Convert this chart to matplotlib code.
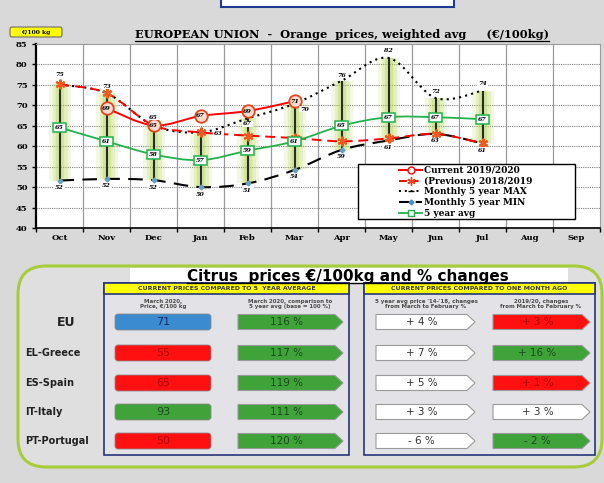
import numpy as np
import matplotlib
matplotlib.use("Agg")
import matplotlib.pyplot as plt
from matplotlib.path import Path
from matplotlib.patches import PathPatch, Rectangle, FancyBboxPatch, Polygon
from matplotlib.lines import Line2D
from matplotlib.transforms import IdentityTransform

W, H = 604, 483

MONTHS = ["Oct", "Nov", "Dec", "Jan", "Feb", "Mar", "Apr", "May", "Jun", "Jul", "Aug", "Sep"]
CURRENT = [np.nan, 69.3, 65.1, 67.4, 68.6, 71.0]          # Oct..Mar 2019/2020
PREVIOUS = [75.1, 73.0, 65.1, 63.4, 62.6, 62.0, 61.2, 61.9, 63.0, 60.7]
MAX5 = [75.1, 73.0, 65.1, 63.4, 66.8, 70.4, 76.0, 81.6, 71.8, 73.6]
MIN5 = [51.6, 52.0, 51.7, 50.0, 50.9, 54.2, 59.1, 61.4, 63.0, 60.7]
AVG5 = [64.6, 61.2, 58.0, 56.6, 58.9, 61.2, 65.0, 67.1, 67.1, 66.6]

COUNTRIES = ["EU", "EL-Greece", "ES-Spain", "IT-Italy", "PT-Portugal"]
PRICE_MAR = [71, 55, 65, 93, 50]
VS_AVG = [116, 117, 119, 111, 120]
AVG_CHANGE = [4, 7, 5, 3, -6]
CUR_CHANGE = [3, 16, 1, 3, -2]
PRICE_COL = ["blue", "red", "red", "green", "red"]
CUR_COL = ["red", "green", "red", "white", "green"]

FILL = {"blue": "#3b8bd0", "red": "#ff1010", "green": "#3fa33a", "white": "#ffffff"}
INK = {"blue": "#1b2a6b", "red": "#b00000", "green": "#1c4a1c", "white": "#333333"}

SERIF = "DejaVu Serif"
SANS = "DejaVu Sans"


def smooth(ax, xs, ys, **kw):
    pts = np.column_stack([xs, ys])
    verts, codes = [pts[0]], [Path.MOVETO]
    n = len(pts)
    for i in range(n - 1):
        p0, p1, p2, p3 = pts[max(i - 1, 0)], pts[i], pts[i + 1], pts[min(i + 2, n - 1)]
        verts += [p1 + (p2 - p0) / 6, p2 - (p3 - p1) / 6, p2]
        codes += [Path.CURVE4] * 3
    ax.add_patch(PathPatch(Path(verts, codes), fill=False, **kw))


def underline(fig, txt, color="black", lw=0.8, off=0.0):
    fig.canvas.draw()
    bb = txt.get_window_extent()
    fig.add_artist(Line2D([bb.x0, bb.x1], [bb.y0 + off, bb.y0 + off],
                          transform=IdentityTransform(), color=color, lw=lw))


fig = plt.figure(figsize=(W / 100, H / 100), dpi=100)
fig.patch.set_facecolor("#d9d9d9")

bg = fig.add_axes([0, 0, 1, 1], zorder=0)
bg.set_xlim(0, W)
bg.set_ylim(H, 0)
bg.axis("off")

# ---- top chart ----
ax = fig.add_axes([36 / W, 1 - 228 / H, 564 / W, 184 / H], zorder=1)
ax.set_facecolor("white")
ax.set_xlim(-0.5, 11.5)
ax.set_ylim(40, 85)

for y in range(45, 85, 5):
    ax.axhline(y, color="#7f7f7f", lw=0.8, ls=(0, (1, 1)), zorder=0.5)
for k in range(11):
    ax.axvline(k + 0.5, color="#9a9a9a", lw=0.9, zorder=0.5)

for s in ("top", "right"):
    ax.spines[s].set_color("#9a9a9a")
ax.spines["left"].set_linewidth(1.6)
ax.spines["bottom"].set_linewidth(1.2)

ax.set_yticks(range(40, 90, 5))
ax.set_xticks(range(12))
ax.set_xticklabels(MONTHS)
ax.set_xticks(np.arange(-0.5, 12, 1), minor=True)
ax.tick_params(axis="y", length=3, width=1, pad=3)
ax.tick_params(axis="x", which="major", length=0, pad=4)
ax.tick_params(axis="x", which="minor", length=3, width=1)
for lab in ax.get_xticklabels() + ax.get_yticklabels():
    lab.set_fontfamily(SERIF)
    lab.set_fontweight("bold")
    lab.set_fontsize(6)

x10 = np.arange(10)
# glow + min/max bars
for lw_, a in [(16, 0.16), (11, 0.24), (6, 0.4)]:
    ax.vlines(x10, MIN5, MAX5, color="#b5d957", lw=lw_, alpha=a, zorder=1)
ax.vlines(x10, MIN5, MAX5, color="#2b2b2b", lw=1.5, zorder=2)

smooth(ax, x10, MIN5, color="black", lw=1.5, ls=(0, (7, 4)), zorder=3)
smooth(ax, x10, MAX5, color="black", lw=1.5, ls=(0, (1, 2)), zorder=3)
smooth(ax, x10, PREVIOUS, color="#ff0000", lw=1.4, ls=(0, (5, 3)), zorder=4)
smooth(ax, x10, AVG5, color="#22b14c", lw=1.3, zorder=4)
smooth(ax, np.arange(1, 6), CURRENT[1:], color="#ff0000", lw=1.4, zorder=5)

ax.plot(x10, MIN5, ls="none", marker="D", ms=2.5, color="#6a9fc0", zorder=4)
ax.plot(x10, PREVIOUS, ls="none", marker=(6, 2, 0), ms=7, mew=1.5,
        color="#f05a1e", zorder=5)
ax.plot(np.arange(6), CURRENT, ls="none", marker="o", ms=9, mfc="#f9dccd",
        mec="#e8441c", mew=1.3, zorder=6)

lab_kw = dict(fontsize=4.6, fontweight="bold", fontstyle="italic",
              family=SERIF, ha="center", va="center", textcoords="offset points")
white = dict(boxstyle="square,pad=0.1", fc="white", ec="none")

max_off = [(0, 7), (0, 5), (0, 6), (13, -1), (0, -4), (7, -4), (0, 4), (0, 5), (0, 5), (0, 5)]
for i, v in enumerate(MAX5):
    ax.annotate(f"{v:.0f}", (i, v), xytext=max_off[i], bbox=white, zorder=7, **lab_kw)
for i, v in enumerate(MIN5):
    ax.annotate(f"{v:.0f}", (i, v), xytext=(0, -5), bbox=white, zorder=7, **lab_kw)
for i, v in enumerate(CURRENT):
    if not np.isnan(v):
        ax.annotate(f"{v:.0f}", (i, v), xytext=(0, 0), zorder=8, **lab_kw)
for i, v in enumerate(AVG5):
    ax.annotate(f"{v:.0f}", (i, v), xytext=(0, 0), zorder=8,
                bbox=dict(boxstyle="square,pad=0.3", fc="white", ec="#22b14c", lw=1.1),
                **lab_kw)

# legend
ax.add_patch(Rectangle((358, 164), 217, 55, transform=bg.transData,
                       fc="white", ec="black", lw=1, zorder=9))
handles = [
    Line2D([], [], color="#ff0000", lw=1.4, marker="o", ms=5, mfc="white", mec="#ff0000"),
    Line2D([], [], color="#ff0000", lw=1.4, ls=(0, (4, 2)), marker=(6, 2, 0), ms=6,
           mec="#e8441c"),
    Line2D([], [], color="black", lw=1.4, ls=(0, (1, 2)), marker="_", ms=5),
    Line2D([], [], color="black", lw=1.5, ls=(0, (5, 3)), marker="D", ms=2.5,
           mfc="#4a90c8", mec="#4a90c8"),
    Line2D([], [], color="#22b14c", lw=1.3, marker="s", ms=5, mfc="white", mec="#22b14c"),
]
labels = ["Current 2019/2020", "(Previous) 2018/2019", "Monthly 5 year MAX",
          "Monthly 5 year MIN", "5 year avg"]
leg = ax.legend(handles, labels, loc="center left", bbox_to_anchor=(399 / W, 1 - 192 / H),
                bbox_transform=fig.transFigure, frameon=False,
                prop=dict(family=SERIF, weight="bold", size=6.5), handlelength=2.6,
                handletextpad=0.2, labelspacing=0.2, borderpad=0, borderaxespad=0)
leg.set_zorder(10)

# titles / decorations on the background
bg.add_patch(Rectangle((221, -10), 233, 17, fc="white", ec="#1f3a93", lw=1.5))
bg.add_patch(FancyBboxPatch((10, 27), 52, 10, boxstyle="round,pad=0,rounding_size=2",
                            fc="#ffff00", ec="#6d6d6d", lw=0.8))
bg.text(36, 32.3, "€/100 kg", fontsize=4.3, fontweight="bold", family=SERIF,
        ha="center", va="center")
title = bg.text(342, 35, "EUROPEAN UNION  -  Orange  prices, weighted avg     (€/100kg)",
                fontsize=8.2, fontweight="bold", family=SERIF, ha="center", va="center")

# ---- bottom panel ----
bg.add_patch(FancyBboxPatch((18, 266), 584, 201, boxstyle="round,pad=0,rounding_size=28",
                            fc="#dfdfdf", ec="#a9cc3a", lw=2.2))
bg.add_patch(Rectangle((130, 268), 438, 15, fc="white", ec="none"))
ctitle = bg.text(348, 276, "Citrus  prices €/100kg and % changes", fontsize=11,
                 fontweight="bold", family=SANS, ha="center", va="center")

for x0, w, head in [(104, 245, "CURRENT PRICES COMPARED TO 5  YEAR AVERAGE"),
                    (364, 231, "CURRENT PRICES COMPARED TO ONE MONTH AGO")]:
    bg.add_patch(Rectangle((x0, 283), w, 172, fc="#e3e3e7", ec="#27357a", lw=1.2))
    bg.add_patch(Rectangle((x0, 283), w, 11, fc="#ffff00", ec="#27357a", lw=1.2))
    bg.text(x0 + w / 2, 289, head, fontsize=4.5, fontweight="bold", family=SANS,
            ha="center", va="center", color="#3a3a3a")

subs = [(163, "March 2020,\nPrice, €/100 kg"),
        (290, "March 2020, comparison to\n5 year avg (base = 100 %)"),
        (426, "5 year avg price '14-'18, changes\nfrom March to February %"),
        (541, "2019/20, changes\nfrom March to February %")]
for x, s in subs:
    bg.text(x, 304, s, fontsize=4, fontweight="bold", family=SANS, ha="center",
            va="center", color="#4a4a4a", linespacing=1.1)

ROW_Y = [322, 353, 383, 412, 441]


def arrow(x0, x1, yc, key, text):
    h, tip = 15, 8
    pts = [(x0, yc - h / 2), (x1 - tip, yc - h / 2), (x1, yc), (x1 - tip, yc + h / 2),
           (x0, yc + h / 2)]
    bg.add_patch(Polygon(pts, closed=True, fc=FILL[key], ec="#9a9a9a", lw=0.8))
    bg.text((x0 + x1 - tip) / 2, yc, text, fontsize=7.5, family=SANS, ha="center",
            va="center", color=INK[key])


def signed(v):
    return f"{'+' if v >= 0 else '-'} {abs(v)} %"


for i, name in enumerate(COUNTRIES):
    yc = ROW_Y[i]
    if name == "EU":
        bg.text(66, yc + 1, name, fontsize=9, fontweight="bold", family=SANS,
                ha="center", va="center", color="#222222")
    else:
        bg.text(25, yc, name, fontsize=7, fontweight="bold", family=SANS,
                ha="left", va="center", color="#222222")
    k = PRICE_COL[i]
    bg.add_patch(FancyBboxPatch((115, yc - 8), 96, 16, boxstyle="round,pad=0,rounding_size=3",
                                fc=FILL[k], ec="#8a8a8a", lw=0.6))
    bg.text(163, yc, f"{PRICE_MAR[i]}", fontsize=8, family=SANS, ha="center",
            va="center", color=INK[k])
    arrow(238, 343, yc, "green", f"{VS_AVG[i]} %")
    arrow(376, 475, yc, "white", signed(AVG_CHANGE[i]))
    arrow(493, 590, yc, CUR_COL[i], signed(CUR_CHANGE[i]))

underline(fig, title, lw=0.9)
underline(fig, ctitle, lw=1.0, off=1)

fig.savefig("out.png", dpi=100, facecolor=fig.get_facecolor())
